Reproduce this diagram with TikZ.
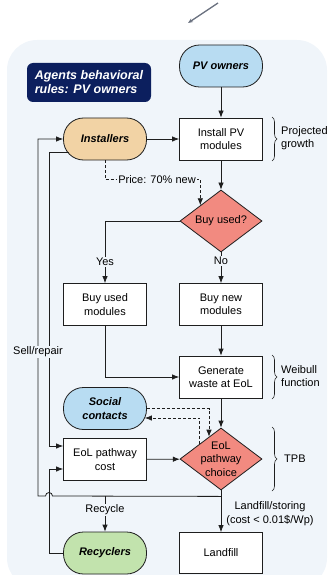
\documentclass[tikz,border=0pt]{standalone}
\usepackage{fontspec}
\setmainfont{Liberation Sans}
\usetikzlibrary{shapes.geometric,arrows.meta,decorations.pathreplacing,calc}

\definecolor{panel}{HTML}{F0F5FA}
\definecolor{linec}{HTML}{1E1E1E}
\definecolor{navy}{HTML}{0C1F5E}
\definecolor{pvblue}{HTML}{B8DCF2}
\definecolor{tan}{HTML}{F2D3A5}
\definecolor{deccol}{HTML}{F28A80}
\definecolor{recgreen}{HTML}{C2E3AD}
\definecolor{pointer}{HTML}{6B7280}

\tikzset{
  txt/.style={font=\fontsize{11}{13.5}\selectfont},
  base/.style={draw=linec, line width=0.8pt, minimum width=83pt, minimum height=42pt,
    align=center, inner sep=2pt, txt},
  procbox/.style={base, fill=white},
  agent/.style={base, rounded corners=20pt, font=\fontsize{11}{13.5}\selectfont\bfseries\itshape},
  decision/.style={diamond, draw=linec, line width=0.8pt, fill=deccol, minimum width=82pt,
    minimum height=62pt, inner sep=-2pt, align=center, aspect=1.32, txt},
  arr/.style={-{Latex[length=7pt,width=5.5pt]}, draw=linec, line width=0.8pt},
  dasharr/.style={arr, dash pattern=on 3pt off 2pt},
  lbl/.style={fill=panel, inner sep=1pt, txt},
  sidenote/.style={anchor=west, align=left, inner sep=0pt, txt},
  bracestyle/.style={decorate, decoration={brace, amplitude=5pt}, draw=linec, line width=0.6pt}
}

\begin{document}
\begin{tikzpicture}[x=1pt, y=-1pt]
\useasboundingbox (0,0) rectangle (327,575);

% background panel
\fill[panel, rounded corners=30pt] (7,40) rectangle (327,588);

% pointer arrow above the panel
\coordinate (ga) at (218,3);
\coordinate (gb) at (188,23);
\draw[pointer, line width=1.3pt, -{Stealth[length=5pt,width=4pt]}] (ga) -- (gb);

% title
\node[fill=navy, rounded corners=6pt, minimum width=124pt, minimum height=39pt, inner sep=3pt,
      text=white, align=left, font=\fontsize{12.5}{14}\selectfont\bfseries\itshape]
  (title) at (89,82.5) {Agents behavioral\\rules: PV owners};

% nodes
\node[agent, fill=pvblue] (pv) at (221,66) {PV owners};
\node[procbox] (install) at (221,139) {Install PV\\modules};
\node[agent, fill=tan] (installers) at (105,139) {Installers};
\node[decision] (buyused) at (221,221) {Buy used?};
\node[procbox] (usedmod) at (105,304.5) {Buy used\\modules};
\node[procbox] (newmod) at (221,304.5) {Buy new\\modules};
\node[procbox] (waste) at (221,377) {Generate\\waste at EoL};
\node[agent, fill=pvblue] (social) at (105,408.5) {Social\\contacts};
\node[procbox] (cost) at (105,459.5) {EoL pathway\\cost};
\node[decision] (eol) at (221,459) {EoL\\pathway\\choice};
\node[procbox, minimum height=41pt] (landfill) at (221,553) {Landfill};
\node[agent, fill=recgreen] (recyclers) at (105,553) {Recyclers};

% main flow
\draw[arr] (pv) -- (install);
\draw[arr] (installers) -- (install);
\draw[arr] (install) -- (buyused);
\draw[arr] (buyused.west) -| (usedmod.north);
\draw[arr] (buyused.south) -- (newmod.north);
\draw[arr] (usedmod.south) |- (waste.west);
\draw[arr] (newmod) -- (waste);
\draw[arr] (waste) -- (eol);
\draw[arr] (cost) -- (eol);
\draw[arr] (eol.south) -- (landfill.north);

% price signal from installers
\coordinate (pricecorner) at ($(buyused.north west)+(0,-25.5)$);
\draw[dasharr] (installers.south) |- (pricecorner) -- (buyused.north west);
\node[lbl] (price) at (157,180) {Price: 70\% new};

% social influence loop
\coordinate (eolA) at ($(eol.north)!0.29!(eol.west)$);
\coordinate (eolB) at ($(eol.north)!0.51!(eol.west)$);
\draw[dasharr] (social.east) -| (eolA);
\draw[dasharr] (eolB) |- ($(social.east)+(-2,9.5)$);

% feedback lines on the left
\coordinate (j) at ($(eol.south)+(0,6)$);
\coordinate (hopR) at (52.5,496);
\coordinate (leftA) at (38,496);
\draw[arr] (j) -- (hopR) arc[start angle=0, end angle=-180, radius=3.5] -- (leftA) |- (installers.west);
\coordinate (jr) at (recyclers.north |- j);
\draw[arr] (jr) -- (recyclers.north);

\coordinate (instout) at (68.5,152);
\draw[arr] (instout) -- (49,152) |- ($(cost.west)+(0,-13.5)$);
\draw[arr] (recyclers.west) -- (49,553) |- ($(cost.west)+(0,9.5)$);

% connector labels
\node[lbl] (yes) at (105,262) {Yes};
\node[lbl] (no) at (221,261) {No};
\node[lbl] (sell) at (38,352) {Sell/repair};
\node[lbl] (recycle) at (105,510) {Recycle};
\node[txt, align=center, inner sep=0pt] (landlbl) at (270,513.5) {Landfill/storing\\(cost < 0.01\$/Wp)};

% braces with model notes
\draw[bracestyle] (272,117) -- (272,161);
\node[sidenote] (growth) at (281,138) {Projected\\growth};
\draw[bracestyle] (272,355) -- (272,399);
\node[sidenote] (weibull) at (281,376) {Weibull\\function};
\draw[bracestyle] (272,427) -- (272,491);
\node[sidenote] (tpb) at (284,459) {TPB};
\end{tikzpicture}
\end{document}
